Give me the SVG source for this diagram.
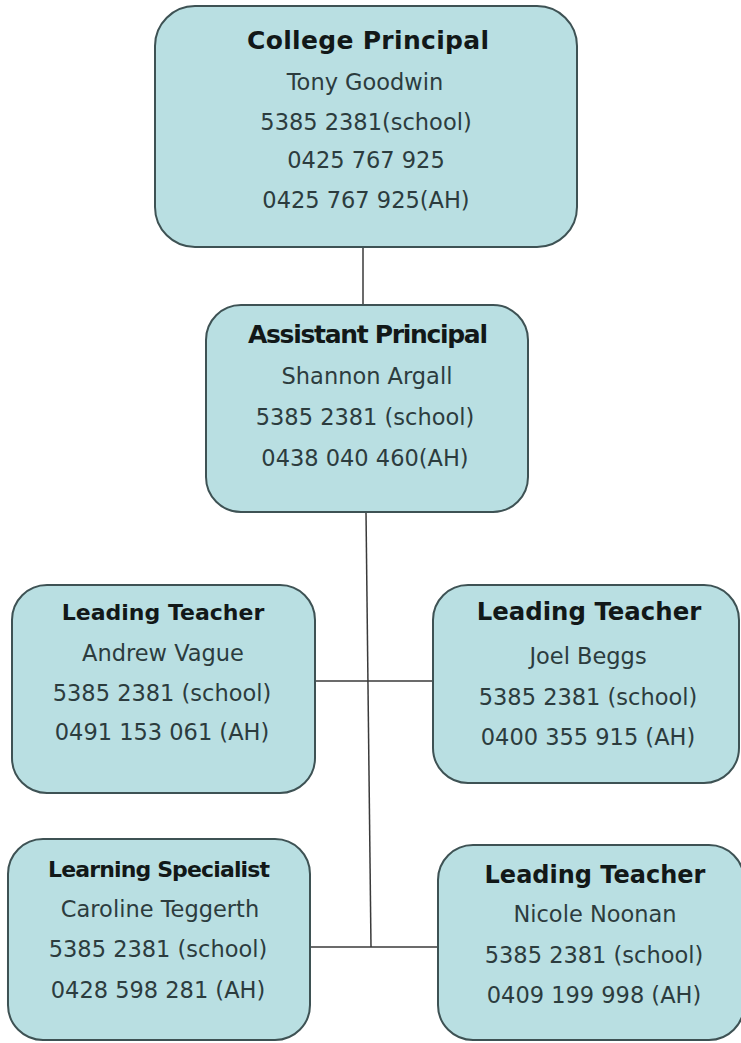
<svg xmlns="http://www.w3.org/2000/svg" width="741" height="1043" viewBox="0 0 741 1043">
<style>
.box{fill:#b9dfe2;stroke:#3e5254;stroke-width:2}
.t{font-family:"DejaVu Sans",sans-serif;font-weight:bold;fill:#121818;text-anchor:middle}
.b{font-family:"DejaVu Sans",sans-serif;fill:#2c3c3e;text-anchor:middle;font-size:22.5px}
.c{stroke:#3a3a3a;stroke-width:1.5;fill:none}
</style>
<rect width="741" height="1043" fill="#ffffff"/>
<g id="connectors">
<line class="c" x1="363" y1="247" x2="363" y2="305"/>
<line class="c" x1="366" y1="512" x2="371" y2="947"/>
<line class="c" x1="315" y1="681" x2="433" y2="681"/>
<line class="c" x1="310" y1="947" x2="438" y2="947"/>
</g>
<g id="college-principal">
<rect class="box" x="155" y="6" width="422" height="241" rx="40"/>
<text class="t" x="368" y="49" font-size="25" textLength="242">College Principal</text>
<text class="b" x="365" y="90" font-size="24">Tony Goodwin</text>
<text class="b" x="366" y="130">5385 2381(school)</text>
<text class="b" x="366" y="168">0425 767 925</text>
<text class="b" x="366" y="208">0425 767 925(AH)</text>
</g>
<g id="assistant-principal">
<rect class="box" x="206" y="305" width="322" height="207" rx="35"/>
<text class="t" x="368" y="343" font-size="25" textLength="240">Assistant Principal</text>
<text class="b" x="367" y="384">Shannon Argall</text>
<text class="b" x="365" y="425">5385 2381 (school)</text>
<text class="b" x="365" y="466">0438 040 460(AH)</text>
</g>
<g id="leading-teacher-andrew">
<rect class="box" x="12" y="585" width="303" height="208" rx="35"/>
<text class="t" x="163" y="620" font-size="22">Leading Teacher</text>
<text class="b" x="163" y="661">Andrew Vague</text>
<text class="b" x="162" y="701">5385 2381 (school)</text>
<text class="b" x="162" y="740">0491 153 061 (AH)</text>
</g>
<g id="leading-teacher-joel">
<rect class="box" x="433" y="585" width="306" height="198" rx="35"/>
<text class="t" x="589" y="620" font-size="24.4">Leading Teacher</text>
<text class="b" x="588" y="664">Joel Beggs</text>
<text class="b" x="588" y="705">5385 2381 (school)</text>
<text class="b" x="588" y="745">0400 355 915 (AH)</text>
</g>
<g id="learning-specialist">
<rect class="box" x="8" y="839" width="302" height="201" rx="35"/>
<text class="t" x="159" y="877" font-size="22" textLength="222">Learning Specialist</text>
<text class="b" x="160" y="917">Caroline Teggerth</text>
<text class="b" x="158" y="957">5385 2381 (school)</text>
<text class="b" x="158" y="998">0428 598 281 (AH)</text>
</g>
<g id="leading-teacher-nicole">
<rect class="box" x="438" y="845" width="306" height="195" rx="35"/>
<text class="t" x="595" y="883" font-size="24">Leading Teacher</text>
<text class="b" x="595" y="922">Nicole Noonan</text>
<text class="b" x="594" y="963">5385 2381 (school)</text>
<text class="b" x="594" y="1003">0409 199 998 (AH)</text>
</g>
</svg>
